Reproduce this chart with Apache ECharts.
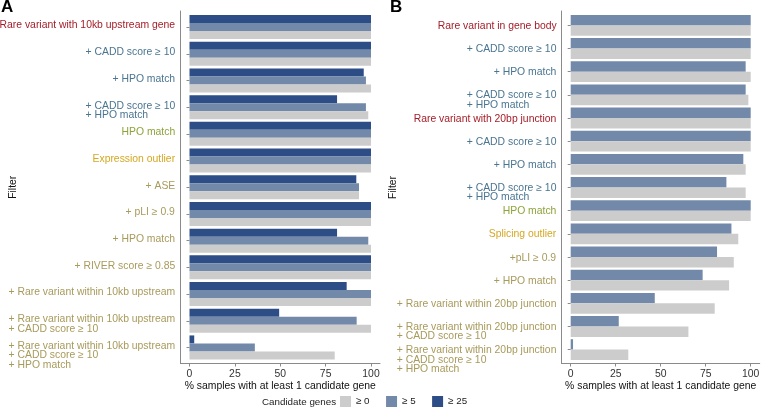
<!DOCTYPE html>
<html><head><meta charset="utf-8">
<script src="https://cdn.jsdelivr.net/npm/echarts@6/dist/echarts.min.js"></script>
<style>html,body{margin:0;padding:0;background:#fff}#c{width:763px;height:413px}</style>
</head><body><div id="c"></div>
<script>
// ---------- data ----------
const categoriesA = [
  'Rare variant with 10kb upstream gene',
  '+ CADD score ≥ 10',
  '+ HPO match',
  '+ CADD score ≥ 10\n+ HPO match',
  'HPO match',
  'Expression outlier',
  '+ ASE',
  '+ pLI ≥ 0.9',
  '+ HPO match',
  '+ RIVER score ≥ 0.85',
  '+ Rare variant within 10kb upstream',
  '+ Rare variant within 10kb upstream\n+ CADD score ≥ 10',
  '+ Rare variant within 10kb upstream\n+ CADD score ≥ 10\n+ HPO match'
];
const classesA = ['variant','vfilter','vfilter','vfilter','hpo','outlier','ofilter','ofilter','ofilter','ofilter','ofilter','ofilter','ofilter'];
const aGe25 = [100, 100, 96, 81.3, 100, 100, 91.9, 100, 81.3, 100, 86.6, 49.4, 2.6];
const aGe5  = [100, 100, 97.2, 97.2, 100, 100, 93.4, 100, 98.5, 100, 100, 92.1, 36];
const aGe0  = [100, 100, 100, 98.5, 100, 100, 93.4, 100, 100, 100, 100, 100, 80];

const categoriesB = [
  'Rare variant in gene body',
  '+ CADD score ≥ 10',
  '+ HPO match',
  '+ CADD score ≥ 10\n+ HPO match',
  'Rare variant with 20bp junction',
  '+ CADD score ≥ 10',
  '+ HPO match',
  '+ CADD score ≥ 10\n+ HPO match',
  'HPO match',
  'Splicing outlier',
  '+pLI ≥ 0.9',
  '+ HPO match',
  '+ Rare variant within 20bp junction',
  '+ Rare variant within 20bp junction\n+ CADD score ≥ 10',
  '+ Rare variant within 20bp junction\n+ CADD score ≥ 10\n+ HPO match'
];
const classesB = ['variant','vfilter','vfilter','vfilter','variant','vfilter','vfilter','vfilter','hpo','outlier','ofilter','ofilter','ofilter','ofilter','ofilter'];
const bGe5 = [100, 100, 97.2, 97.2, 100, 100, 95.9, 86.5, 100, 89.3, 81.3, 73.3, 46.7, 26.7, 1.3];
const bGe0 = [100, 100, 100, 98.7, 100, 100, 97.2, 97.2, 100, 93.1, 90.6, 88, 80, 65.4, 32];

const seriesNames = ['≥ 0', '≥ 5', '≥ 25'];
const xMin = 0, xMax = 100, xStep = 25;
const xTitle = '% samples with at least 1 candidate gene';
const yTitle = 'Filter';
const legendTitle = 'Candidate genes';

// ---------- style ----------
const FONT = "'Liberation Sans', Arial, Helvetica, sans-serif";
const FS = 10.4, LH = 9.4, FS2 = 9.8;
const AX = '#8a8a8a';
const classColor = {variant:'#a31d28', vfilter:'#4a7591', hpo:'#8ea33b', outlier:'#d5a722', ofilter:'#a89a5b'};
const barColor = {'≥ 0':'#cccccc', '≥ 5':'#7389a9', '≥ 25':'#2d4d87'};

const ctx = document.createElement('canvas').getContext('2d');
ctx.font = FS + 'px ' + FONT;
function buildLabels(cats, classes, prefix) {
  const rich = {};
  cats.forEach((c, i) => {
    const w = Math.max(...c.split('\n').map(l => ctx.measureText(l).width));
    rich[prefix + i] = {width: Math.ceil(w) + 1, align: 'left', color: classColor[classes[i]],
      fontSize: FS, lineHeight: LH, fontFamily: FONT};
  });
  return {rich, formatter: (v, i) => v.split('\n').map(l => '{' + prefix + i + '|' + l + '}').join('\n')};
}
const labA = buildLabels(categoriesA, classesA, 'a');
const labB = buildLabels(categoriesB, classesB, 'b');

function frameX(g) {
  return {gridIndex: g, type: 'value', min: 0, max: 1, axisLine: {show: true, onZero: false, lineStyle: {color: AX, width: 1}},
    axisTick: {show: false}, axisLabel: {show: false}, splitLine: {show: false}};
}
function frameY(g) {
  return {gridIndex: g, type: 'value', min: 0, max: 1, axisLine: {show: true, onZero: false, lineStyle: {color: AX, width: 1}},
    axisTick: {show: false}, axisLabel: {show: false}, splitLine: {show: false}};
}
function barX(g, off) {
  return {gridIndex: g, type: 'value', min: xMin, max: xMax, interval: xStep, offset: off,
    axisLine: {show: false}, axisTick: {show: true, length: 3, lineStyle: {color: AX}},
    axisLabel: {fontSize: FS, fontFamily: FONT, color: '#333', margin: 5.5},
    splitLine: {show: false}, name: xTitle, nameLocation: 'middle', nameGap: 18, nameMoveOverlap: false,
    nameTextStyle: {fontSize: FS, fontFamily: FONT, color: '#111'}};
}
function barY(g, cats, lab, off, padTop, gap) {
  return {gridIndex: g, type: 'category', data: cats, inverse: true, offset: off,
    axisLine: {show: false}, axisTick: {show: true, alignWithLabel: true, length: 3, lineStyle: {color: AX}},
    axisLabel: {interval: 0, margin: 4, verticalAlign: 'top', padding: [padTop, 0, 0, 0],
      formatter: lab.formatter, rich: lab.rich},
    name: yTitle, nameLocation: 'middle', nameGap: gap, nameRotate: 90, nameMoveOverlap: false,
    nameTextStyle: {fontSize: FS, fontFamily: FONT, color: '#111'}};
}
function bar(name, xi, data) {
  return {name, type: 'bar', xAxisIndex: xi, yAxisIndex: xi, data, barGap: '0%', barCategoryGap: '10%',
    itemStyle: {color: barColor[name]}, emphasis: {disabled: true}, animation: false};
}
function grid(left, width, top, height) {
  return {left, width, top, height, containLabel: false, outerBoundsMode: 'none'};
}

const chart = echarts.init(document.getElementById('c'), null, {renderer: 'canvas'});
chart.setOption({
  animation: false,
  textStyle: {fontFamily: FONT},
  title: [
    {text: 'A', left: 1, top: -1, padding: 0, textStyle: {fontSize: 17, fontWeight: 'bold', color: '#000', fontFamily: FONT}},
    {text: 'B', left: 390, top: -1, padding: 0, textStyle: {fontSize: 17, fontWeight: 'bold', color: '#000', fontFamily: FONT}},
    {text: legendTitle, left: 262, top: 397, padding: 0, textStyle: {fontSize: FS2, fontWeight: 'normal', color: '#222', fontFamily: FONT}}
  ],
  legend: {data: seriesNames, left: 340, top: 396, padding: 0, itemWidth: 11, itemHeight: 11, itemGap: 16.5,
    icon: 'rect', selectedMode: false, textStyle: {fontSize: FS2, fontFamily: FONT, color: '#222'}},
  grid: [
    grid(180.5, 199.5, 11, 352.5),
    grid(189.5, 181.5, 13.7, 347.1),
    grid(561.7, 198, 11, 352.5),
    grid(570.7, 180, 13.8, 347.4)
  ],
  xAxis: [frameX(0), barX(1, 2.7), frameX(2), barX(3, 2.3)],
  yAxis: [frameY(0), barY(1, categoriesA, labA, 9, -6.2, 162), frameY(2), barY(3, categoriesB, labB, 9, -4, 164)],
  series: [
    bar('≥ 25', 1, aGe25), bar('≥ 5', 1, aGe5), bar('≥ 0', 1, aGe0),
    bar('≥ 5', 3, bGe5), bar('≥ 0', 3, bGe0)
  ]
});
</script></body></html>
